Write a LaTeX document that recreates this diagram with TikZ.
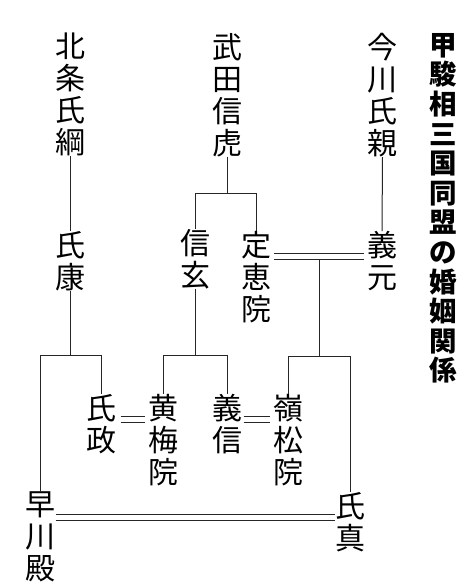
\documentclass[tikz,border=0pt]{standalone}
\usepackage{fontspec}
\newfontfamily\cjk{Noto Sans CJK JP}
\begin{document}
\begin{tikzpicture}[x=1pt,y=-1pt,
  person/.style={font=\cjk\fontsize{30}{32}\selectfont, align=center, inner sep=0pt, anchor=north},
  titlestyle/.style={font=\cjk\bfseries\fontsize{27.5}{29.6}\selectfont, align=center, inner sep=0pt, anchor=north},
  rel/.style={line width=1pt, draw=black!85}]
\useasboundingbox[fill=white] (0,0) rectangle (467,584);
% people
\node[person] (hojo) at (70.5,33) {北\\条\\氏\\綱};
\node[person] (ujiyasu) at (70.5,231) {氏\\康};
\node[person] (takeda) at (227,33) {武\\田\\信\\虎};
\node[person] (imagawa) at (382.5,33) {今\\川\\氏\\親};
\node[person] (shingen) at (195,229) {信\\玄};
\node[person] (jokei) at (256,231) {定\\恵\\院};
\node[person] (yoshimoto) at (382,231) {義\\元};
\node[person] (ujimasa) at (101.5,394) {氏\\政};
\node[person] (obai) at (163,394) {黄\\梅\\院};
\node[person] (yoshinobu) at (227,394) {義\\信};
\node[person] (reisho) at (288.5,394) {嶺\\松\\院};
\node[person] (hayakawa) at (40,492) {早\\川\\殿};
\node[person] (ujizane) at (350.5,492) {氏\\真};
\node[titlestyle] (title) at (443,33) {甲\\駿\\相\\三\\国\\同\\盟\\の\\婚\\姻\\関\\係};
% junction points
\coordinate (hj) at (70.5,355);
\coordinate (tj) at (227,193);
\coordinate (sj) at (195,355);
\coordinate (wj) at (319.3,259.3);
\coordinate (ij) at (319.3,356.5);
% marriage line levels (upper / lower)
\coordinate (m1a) at (0,416.7);
\coordinate (m1b) at (0,422.7);
\coordinate (m2a) at (0,253.3);
\coordinate (m2b) at (0,259.3);
\coordinate (m3a) at (0,514);
\coordinate (m3b) at (0,520);
% Hojo line
\draw[rel] (hojo.south) -- (ujiyasu.north);
\draw[rel] (ujiyasu.south) -- (hj);
\draw[rel] (hayakawa.north) -- (hayakawa.north |- hj) -- (ujimasa.north |- hj) -- (ujimasa.north);
% Takeda line
\draw[rel] (takeda.south) -- (tj);
\draw[rel] (shingen.north) -- (shingen.north |- tj) -- (jokei.north |- tj) -- (jokei.north);
\draw[rel] (shingen.south) -- (sj);
\draw[rel] (obai.north) -- (obai.north |- sj) -- (yoshinobu.north |- sj) -- (yoshinobu.north);
% Imagawa line
\draw[rel] (imagawa.south) -- (yoshimoto.north);
\draw[rel] (wj) -- (ij);
\draw[rel] (reisho.north) -- (reisho.north |- ij) -- (ujizane.north |- ij) -- (ujizane.north);
% marriages (double lines)
\foreach \m in {m2a,m2b}
  \draw[rel, shorten <=2.5pt, shorten >=2.5pt] (jokei.east |- \m) -- (yoshimoto.west |- \m);
\foreach \m in {m1a,m1b}{
  \draw[rel, shorten <=4pt, shorten >=2.5pt] (ujimasa.east |- \m) -- (obai.west |- \m);
  \draw[rel, shorten <=1.5pt, shorten >=3.5pt] (yoshinobu.east |- \m) -- (reisho.west |- \m);
}
\foreach \m in {m3a,m3b}
  \draw[rel, shorten <=0.5pt] (hayakawa.east |- \m) -- (ujizane.west |- \m);
\end{tikzpicture}
\end{document}
